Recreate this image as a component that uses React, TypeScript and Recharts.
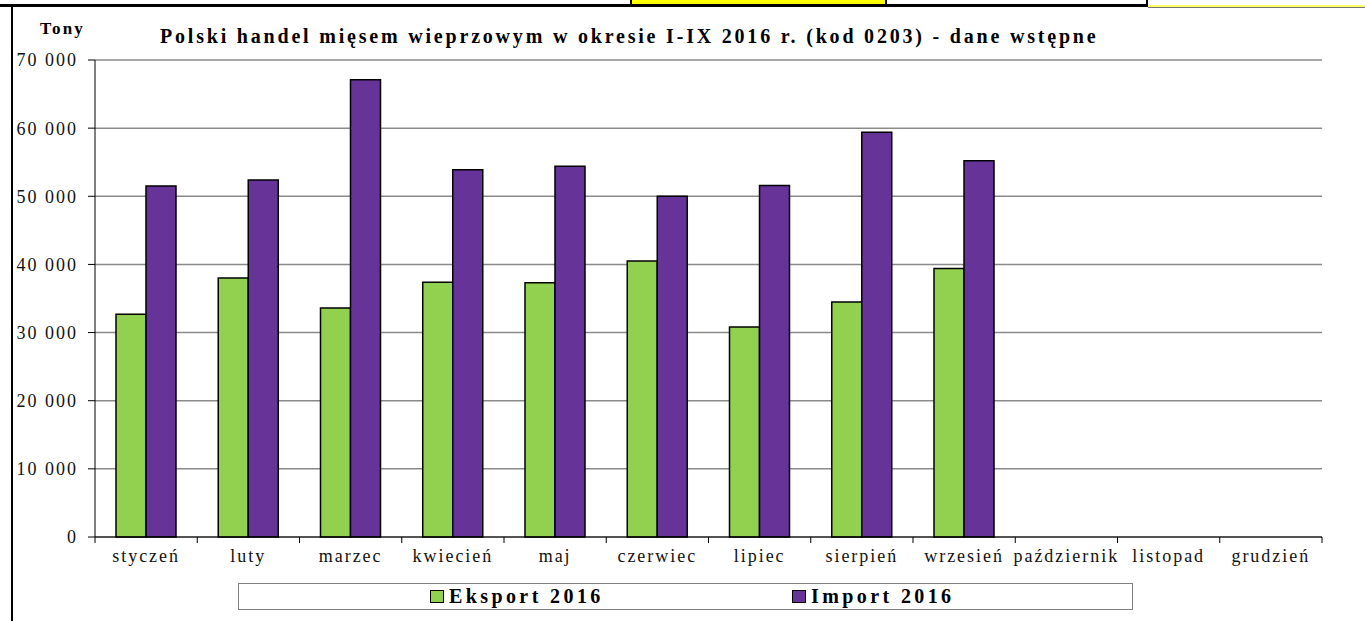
import React from "react";
import { BarChart, Bar, XAxis, YAxis, CartesianGrid } from "recharts";

const months = [
  "styczeń",
  "luty",
  "marzec",
  "kwiecień",
  "maj",
  "czerwiec",
  "lipiec",
  "sierpień",
  "wrzesień",
  "październik",
  "listopad",
  "grudzień",
];
const eksport2016 = [32700, 38000, 33600, 37400, 37300, 40500, 30800, 34500, 39400, null, null, null];
const import2016 = [51500, 52400, 67100, 53900, 54400, 50000, 51600, 59400, 55200, null, null, null];
const yTicks = [0, 10000, 20000, 30000, 40000, 50000, 60000, 70000];

const data = months.map((m, i) => ({
  name: m,
  eksport: eksport2016[i],
  import: import2016[i],
}));

const W = 1365;
const H = 621;
const LEFT = 95;
const RIGHT = 43;
const TOP = 60;
const BAND = (W - LEFT - RIGHT) / months.length;
const FONT = '"Liberation Serif", serif';
const GREEN = "#92d050";
const PURPLE = "#663399";
const GRID = "#8a8a8a";

const fmt = (v: number) => (v === 0 ? "0" : `${v / 1000} 000`);

// Excel-style ticks sit between categories, labels in the middle
function MonthTick(props: any) {
  const { x, y, payload, index } = props;
  const axisY = y - 12;
  return (
    <g>
      <line x1={x - BAND / 2} x2={x - BAND / 2} y1={axisY} y2={axisY + 6} stroke="#000" />
      {index === months.length - 1 && (
        <line x1={x + BAND / 2} x2={x + BAND / 2} y1={axisY} y2={axisY + 6} stroke="#000" />
      )}
      <text
        x={x}
        y={y}
        dy="0.71em"
        textAnchor="middle"
        fill="#111"
        fontSize={18}
        letterSpacing={2}
        fontFamily="Liberation Serif"
      >
        {payload.value}
      </text>
    </g>
  );
}

function LegendItem({ color, label }: { color: string; label: string }) {
  return (
    <span style={{ display: "inline-flex", alignItems: "center" }}>
      <span
        style={{
          width: 12,
          height: 11,
          background: color,
          border: "1.5px solid #000",
          marginRight: 5,
        }}
      />
      <span style={{ fontWeight: "bold", fontSize: 20, letterSpacing: 3.4 }}>{label}</span>
    </span>
  );
}

export default function App() {
  return (
    <div style={{ position: "relative", width: W, height: H, background: "#fff", fontFamily: FONT, overflow: "hidden" }}>
      <style>{"body{margin:0}"}</style>
      {/* scan edges */}
      <div style={{ position: "absolute", left: 0, top: 4, width: 1148, height: 3, background: "#000" }} />
      <div style={{ position: "absolute", left: 630, top: 0, width: 253, height: 4, background: "#ffff00", borderLeft: "2px solid #000", borderRight: "2px solid #000" }} />
      <div style={{ position: "absolute", left: 1146, top: 0, width: 2, height: 7, background: "#000" }} />
      <div style={{ position: "absolute", left: 1148, top: 5, width: 217, height: 2, background: "#ffff66", borderBottom: "1px solid #777" }} />
      <div style={{ position: "absolute", left: 11, top: 7, width: 2, height: H - 7, background: "#000" }} />

      <div style={{ position: "absolute", left: 40, top: 19, fontSize: 17, fontWeight: "bold", letterSpacing: 2.2 }}>Tony</div>
      <div style={{ position: "absolute", left: 160, top: 25, fontSize: 20, fontWeight: "bold", letterSpacing: 2.8, whiteSpace: "nowrap" }}>
        Polski handel mięsem wieprzowym w okresie I-IX 2016 r. (kod 0203) - dane wstępne
      </div>

      <div style={{ position: "absolute", left: 0, top: 0 }}>
        <BarChart
          width={W}
          height={H}
          data={data}
          margin={{ top: TOP, right: RIGHT, left: 0, bottom: 54 }}
          barSize={30}
          barGap={0}
        >
          <CartesianGrid vertical={false} stroke={GRID} strokeWidth={1.5} />
          <XAxis
            dataKey="name"
            height={30}
            axisLine={{ stroke: "#000" }}
            tickLine={false}
            tickSize={6}
            tickMargin={6}
            interval={0}
            tick={<MonthTick />}
          />
          <YAxis
            width={LEFT}
            domain={[0, 70000]}
            ticks={yTicks}
            interval={0}
            tickFormatter={fmt}
            axisLine={{ stroke: "#000" }}
            tickLine={{ stroke: "#000" }}
            tickSize={7}
            tickMargin={10}
            tick={{ fill: "#111", fontSize: 18, fontFamily: "Liberation Serif", letterSpacing: 2 }}
          />
          <YAxis
            yAxisId="r"
            orientation="right"
            width={0}
            tick={false}
            tickLine={false}
            axisLine={{ stroke: GRID, strokeWidth: 1.5 }}
          />
          <Bar dataKey="eksport" name="Eksport 2016" fill={GREEN} stroke="#000" strokeWidth={1.5} isAnimationActive={false} />
          <Bar dataKey="import" name="Import 2016" fill={PURPLE} stroke="#000" strokeWidth={1.5} isAnimationActive={false} />
        </BarChart>
      </div>

      <div
        style={{
          position: "absolute",
          left: 238,
          top: 583,
          width: 895,
          height: 27,
          border: "1.5px solid #808080",
          boxSizing: "border-box",
        }}
      >
        <div style={{ position: "absolute", left: 191, top: 0, height: 25, display: "flex", alignItems: "center" }}>
          <LegendItem color={GREEN} label="Eksport 2016" />
        </div>
        <div style={{ position: "absolute", left: 553, top: 0, height: 25, display: "flex", alignItems: "center" }}>
          <LegendItem color={PURPLE} label="Import 2016" />
        </div>
      </div>
    </div>
  );
}
